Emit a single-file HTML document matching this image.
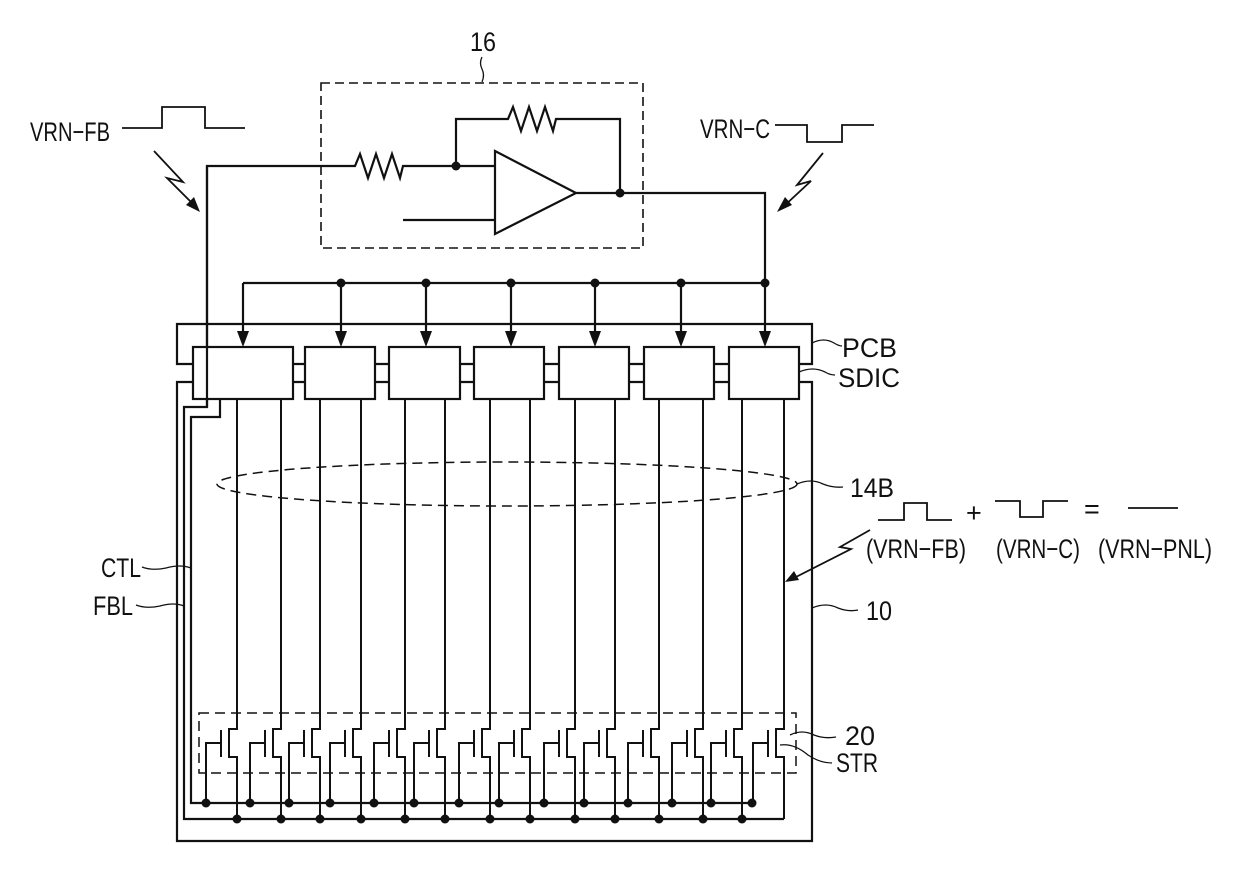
<!DOCTYPE html>
<html><head><meta charset="utf-8"><style>
html,body{margin:0;padding:0;background:#fff;}
svg{display:block;}
text{font-family:"Liberation Sans",sans-serif;font-size:27px;fill:#111;}
</style></head><body>
<svg width="1240" height="870" viewBox="0 0 1240 870" xmlns="http://www.w3.org/2000/svg">
<defs>
<g id="t" fill="none" stroke="#111" stroke-width="2">
<path d="M0,399 V729 H-8 V757 H0 V819"/>
<path d="M-16,730 V757"/>
<path d="M-31,803 V743 H-16"/>
</g>
<path id="ah" d="M-6,-16 L6,-16 L0,0 Z" fill="#111"/>
</defs>
<g fill="none" stroke="#111" stroke-width="2.2">
<rect x="321" y="83" width="322" height="165" stroke-dasharray="9,5" stroke-width="1.6"/>
<path d="M482,57 q-3,6 0,12 q3,6 0,13" stroke-width="1.3"/>
<path d="M207,407 V166 H355 l5,-12 l8,24 l8,-24 l8,24 l8,-24 l8,24 l3,-12 H495"/>
<path d="M456,166 V119 H508 l5,-12 l8,24 l8,-24 l8,24 l8,-24 l8,24 l3,-12 H620 V193"/>
<path d="M495,151 L576,193 L495,234 Z"/>
<path d="M403,220 H495"/>
<path d="M576,193 H765 V283"/>
<path d="M122,128 H162 V107 H205 V128 H245" stroke-width="1.8"/>
<path d="M154,151 L183,182 L167,178 L196,207" stroke-width="1.8"/>
<path d="M775,125 H807 V142 H842 V125 H874" stroke-width="1.8"/>
<path d="M823,153 L797,185 L811,181 L783,207" stroke-width="1.8"/>
<path d="M243,283 H765"/>
<path d="M243,283 V335 M341,283 V335 M426,283 V335 M511,283 V335 M595,283 V335 M681,283 V335 M765,283 V335"/>
<path d="M193,364 H177 V324 H812 V364 H799"/>
<path d="M193,382 H177 V841 H812 V382 H799"/>
<path d="M293,364 H305 M375,364 H389 M460,364 H474 M544,364 H559 M629,364 H644 M714,364 H729"/>
<path d="M293,382 H305 M375,382 H389 M460,382 H474 M544,382 H559 M629,382 H644 M714,382 H729"/>
<rect x="193" y="347" width="100" height="52" fill="#fff"/>
<rect x="305" y="347" width="70" height="52" fill="#fff"/>
<rect x="389" y="347" width="71" height="52" fill="#fff"/>
<rect x="474" y="347" width="70" height="52" fill="#fff"/>
<rect x="559" y="347" width="70" height="52" fill="#fff"/>
<rect x="644" y="347" width="70" height="52" fill="#fff"/>
<rect x="729" y="347" width="70" height="52" fill="#fff"/>
<path d="M207,166 V407 H184 V819 H784"/>
<path d="M220,399 V417 H191 V803 H752"/>
<ellipse cx="507" cy="484" rx="290" ry="22" stroke-dasharray="10,6" stroke-width="1.5"/>
<rect x="199" y="713" width="597" height="60" stroke-dasharray="10,6" stroke-width="1.5"/>
<path d="M812,343 q12,-6 22,0 q5,3 8,3" stroke-width="1.3"/>
<path d="M799,372 q14,-6 26,0 q5,3 10,3" stroke-width="1.3"/>
<path d="M797,484 q14,-6 26,0 q10,4 20,3" stroke-width="1.3"/>
<path d="M812,608 q14,-6 26,0 q10,4 20,2" stroke-width="1.3"/>
<path d="M790,735 q12,-6 24,0 q10,4 22,2" stroke-width="1.3"/>
<path d="M780,745 q14,-2 28,10 q12,8 24,8" stroke-width="1.3"/>
<path d="M142,567 q10,4 24,1 q14,-4 25,0" stroke-width="1.3"/>
<path d="M136,605 q10,4 24,1 q14,-4 24,0" stroke-width="1.3"/>
<path d="M878,520 H904 V503 H927 V520 H952" stroke-width="1.8"/>
<path d="M995,501 H1020 V517 H1043 V501 H1068" stroke-width="1.8"/>
<path d="M1128,508 H1178" stroke-width="1.8"/>
<path d="M870,530 L840,547 L851,549 L792,579" stroke-width="1.8"/>
</g>
<use href="#ah" x="243" y="347"/><use href="#ah" x="341" y="347"/><use href="#ah" x="426" y="347"/>
<use href="#ah" x="511" y="347"/><use href="#ah" x="595" y="347"/><use href="#ah" x="681" y="347"/><use href="#ah" x="765" y="347"/>
<path d="M200,212 L186,205 L194,197 Z" fill="#111"/>
<path d="M777,212 L785,197 L792,205 Z" fill="#111"/>
<path d="M785,582 L794,571 L799,580 Z" fill="#111"/>
<use href="#t" x="237"/><use href="#t" x="281"/><use href="#t" x="320"/><use href="#t" x="361"/>
<use href="#t" x="405"/><use href="#t" x="445"/><use href="#t" x="490"/><use href="#t" x="530"/>
<use href="#t" x="575"/><use href="#t" x="615"/><use href="#t" x="659"/><use href="#t" x="703"/>
<use href="#t" x="742"/><use href="#t" x="784"/>
<g fill="#111">
<circle cx="456" cy="166" r="4.5"/><circle cx="620" cy="193" r="4.5"/>
<circle cx="341" cy="283" r="4.5"/><circle cx="426" cy="283" r="4.5"/><circle cx="511" cy="283" r="4.5"/>
<circle cx="595" cy="283" r="4.5"/><circle cx="681" cy="283" r="4.5"/><circle cx="765" cy="283" r="4.5"/>
<circle cx="206" cy="803" r="4.5"/><circle cx="250" cy="803" r="4.5"/><circle cx="289" cy="803" r="4.5"/><circle cx="330" cy="803" r="4.5"/>
<circle cx="374" cy="803" r="4.5"/><circle cx="414" cy="803" r="4.5"/><circle cx="459" cy="803" r="4.5"/><circle cx="499" cy="803" r="4.5"/>
<circle cx="544" cy="803" r="4.5"/><circle cx="584" cy="803" r="4.5"/><circle cx="628" cy="803" r="4.5"/><circle cx="672" cy="803" r="4.5"/>
<circle cx="711" cy="803" r="4.5"/><circle cx="752" cy="803" r="4.5"/>
<circle cx="237" cy="819" r="4.5"/><circle cx="281" cy="819" r="4.5"/><circle cx="320" cy="819" r="4.5"/><circle cx="361" cy="819" r="4.5"/>
<circle cx="405" cy="819" r="4.5"/><circle cx="445" cy="819" r="4.5"/><circle cx="490" cy="819" r="4.5"/><circle cx="530" cy="819" r="4.5"/>
<circle cx="575" cy="819" r="4.5"/><circle cx="615" cy="819" r="4.5"/><circle cx="659" cy="819" r="4.5"/><circle cx="703" cy="819" r="4.5"/>
<circle cx="742" cy="819" r="4.5"/>
</g>
<text x="470" y="51" textLength="26" lengthAdjust="spacingAndGlyphs">16</text>
<text x="30" y="141" textLength="80" lengthAdjust="spacingAndGlyphs">VRN−FB</text>
<text x="700" y="138" textLength="70" lengthAdjust="spacingAndGlyphs">VRN−C</text>
<text x="842" y="357" textLength="55" lengthAdjust="spacingAndGlyphs">PCB</text>
<text x="838" y="387" textLength="62" lengthAdjust="spacingAndGlyphs">SDIC</text>
<text x="850" y="497" textLength="44" lengthAdjust="spacingAndGlyphs">14B</text>
<text x="1084" y="518" font-size="22">=</text>
<text x="966" y="522" font-size="22">+</text>
<text x="866" y="558" textLength="100" lengthAdjust="spacingAndGlyphs">(VRN−FB)</text>
<text x="996" y="558" textLength="84" lengthAdjust="spacingAndGlyphs">(VRN−C)</text>
<text x="1098" y="558" textLength="114" lengthAdjust="spacingAndGlyphs">(VRN−PNL)</text>
<text x="866" y="620" textLength="26" lengthAdjust="spacingAndGlyphs">10</text>
<text x="845" y="745" textLength="30" lengthAdjust="spacingAndGlyphs">20</text>
<text x="836" y="772" textLength="42" lengthAdjust="spacingAndGlyphs">STR</text>
<text x="101" y="577" textLength="40" lengthAdjust="spacingAndGlyphs">CTL</text>
<text x="93" y="615" textLength="40" lengthAdjust="spacingAndGlyphs">FBL</text>
</svg>
</body></html>
